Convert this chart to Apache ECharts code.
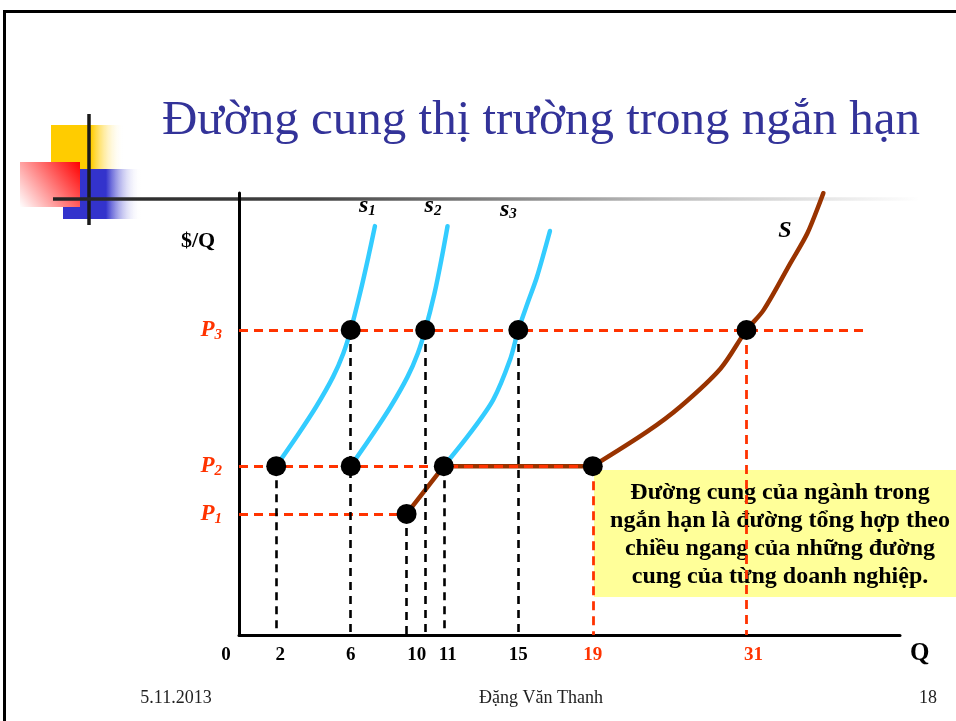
<!DOCTYPE html>
<html><head><meta charset="utf-8">
<script src="https://cdn.jsdelivr.net/npm/echarts@6/dist/echarts.min.js"></script>
<style>html,body{margin:0;padding:0;background:#fff}#c{width:956px;height:721px}</style>
</head><body><div id="c"></div>
<script>
// ---------- data ----------
const qTicks = [0, 2, 6, 10, 11, 15, 19, 31];
const industryQ = [19, 31];
const priceNames = ['1', '2', '3'];
const priceLevels = [2.74, 3.82, 6.9];            // P1, P2, P3 (schematic)
const P1 = priceLevels[0], P2 = priceLevels[1], P3 = priceLevels[2];
const s1 = [[2, P2], [3.1, 4.49], [4.15, 5.17], [5.05, 5.84], [5.6, 6.37], [6, P3], [6.5, 7.73], [6.95, 8.56], [7.3, 9.25]];
const s2 = [[6, P2], [7.1, 4.49], [8.15, 5.17], [9.05, 5.84], [9.6, 6.37], [10, P3], [10.5, 7.73], [10.9, 8.56], [11.2, 9.25]];
const s3 = [[11, P2], [12.4, 4.56], [13.65, 5.32], [14.55, 6.22], [15, P3], [15.5, 7.51], [16, 8.1], [16.7, 9.14]];
const sFlat = [[9, P1], [11, P2], [19, P2]];
const sCurve = [[19, P2], [23.24, 4.6], [25.85, 5.17], [28.98, 6.03], [31, P3], [32.33, 7.35], [34.44, 8.42], [35.77, 9.1], [37, 10]];
const points = [[2, P2], [6, P2], [6, P3], [10, P3], [11, P2], [15, P3], [9, P1], [19, P2], [31, P3]];
const redH = [[0, P3, 40.5], [0, P2, 19], [0, P1, 9]];   // [fromQ, P, toQ]
const redV = [[19, P2], [31, P3]];
const blackV = [[2, P2], [6, P3], [10, P3], [11, P2], [15, P3], [9, P1]];

// ---------- schematic axis: the drawing compresses Q beyond 19 ----------
const BREAK_Q = 19, COMPRESS = 0.688;
const W = q => q <= BREAK_Q ? q : BREAK_Q + (q - BREAK_Q) * COMPRESS;
const UW = u => u <= BREAK_Q ? u : BREAK_Q + (u - BREAK_Q) / COMPRESS;
const warp = arr => arr.map(([q, p]) => [W(q), p]);

const SERIF = '"Liberation Serif","DejaVu Serif",serif';
const RED = '#FF3300';
const chart = echarts.init(document.getElementById('c'), null, {renderer: 'canvas'});

const tickRich = {
  n: {fontFamily: SERIF, fontWeight: 'bold', fontSize: 19, color: '#000'},
  r: {fontFamily: SERIF, fontWeight: 'bold', fontSize: 19, color: RED},
  z: {fontFamily: SERIF, fontWeight: 'bold', fontSize: 19, color: '#000', padding: [0, 26, 0, 0]},
  t: {fontFamily: SERIF, fontWeight: 'bold', fontSize: 19, color: '#000', padding: [0, 17, 0, 0]},
  e: {fontFamily: SERIF, fontWeight: 'bold', fontSize: 19, color: '#000', padding: [0, 0, 0, 8]},
  rr: {fontFamily: SERIF, fontWeight: 'bold', fontSize: 19, color: RED, padding: [0, 0, 0, 14]}
};

function curveLabel(sub, dx, dy) {
  return {
    show: true, formatter: '{a|s}{b|' + sub + '}', offset: [dx, dy], distance: 0,
    rich: {
      a: {fontFamily: SERIF, fontStyle: 'italic', fontWeight: 'bold', fontSize: 24, color: '#000', lineHeight: 22},
      b: {fontFamily: SERIF, fontStyle: 'italic', fontWeight: 'bold', fontSize: 15, color: '#000', lineHeight: 14, padding: [9, 0, 0, 0]}
    }
  };
}
const blue = {color: '#33CCFF', width: 4.5, cap: 'round'};
const brown = {color: '#993300', width: 4.5, cap: 'round', join: 'round'};

const option = {
  animation: false,
  grid: {left: 239, right: 56, top: 193, bottom: 86, containLabel: false},
  xAxis: {
    type: 'value', min: 0, max: 35.5,
    axisLine: {show: true, onZero: false, lineStyle: {color: '#000', width: 3}},
    axisTick: {show: false}, splitLine: {show: false},
    axisLabel: {
      customValues: qTicks.map(W), margin: 11,
      formatter: v => {
        const q = Math.round(UW(v));
        if (q === 0) return '{z|0}';
        if (q === 10) return '{t|10}';
        if (q === 2 || q === 11) return '{e|' + q + '}';
        if (q === 31) return '{rr|31}';
        return industryQ.includes(q) ? '{r|' + q + '}' : '{n|' + q + '}';
      },
      rich: tickRich
    },
    name: 'Q', nameLocation: 'end', nameGap: 10,
    nameTextStyle: {fontFamily: SERIF, fontWeight: 'bold', fontSize: 25, color: '#000', verticalAlign: 'top', padding: [6, 0, 0, 0]}
  },
  yAxis: {
    type: 'value', min: 0, max: 10,
    axisLine: {show: true, onZero: false, lineStyle: {color: '#000', width: 3}},
    axisTick: {show: false}, splitLine: {show: false},
    axisLabel: {
      customValues: priceLevels, margin: 17,
      formatter: v => '{p|P}{s|' + priceNames[priceLevels.indexOf(v)] + '}',
      rich: {
        p: {fontFamily: SERIF, fontStyle: 'italic', fontWeight: 'bold', fontSize: 23, color: RED, lineHeight: 22},
        s: {fontFamily: SERIF, fontStyle: 'italic', fontWeight: 'bold', fontSize: 15, color: RED, lineHeight: 14, padding: [10, 0, 0, 0]}
      }
    }
  },
  graphic: [
    {type: 'rect', shape: {x: 4.5, y: 11.5, width: 1000, height: 800}, style: {fill: 'none', stroke: '#000', lineWidth: 3}, silent: true},
    {type: 'rect', shape: {x: 51, y: 125, width: 73, height: 45}, style: {fill: new echarts.graphic.LinearGradient(0, 0, 1, 0, [{offset: 0, color: '#FFCC00'}, {offset: 0.55, color: '#FFCC00'}, {offset: 1, color: 'rgba(255,255,255,0)'}])}, silent: true},
    {type: 'rect', shape: {x: 63, y: 169, width: 78, height: 50}, style: {fill: new echarts.graphic.LinearGradient(0, 0, 1, 0, [{offset: 0, color: '#3333CC'}, {offset: 0.55, color: '#3333CC'}, {offset: 1, color: 'rgba(255,255,255,0)'}])}, silent: true},
    {type: 'rect', shape: {x: 20, y: 162, width: 60, height: 45}, style: {fill: new echarts.graphic.LinearGradient(1, 0, 0, 1, [{offset: 0, color: '#FF0000'}, {offset: 1, color: '#FFFFFF'}])}, silent: true},
    {type: 'line', shape: {x1: 89, y1: 114, x2: 89, y2: 225}, style: {stroke: '#1a1a1a', lineWidth: 3.5}, silent: true},
    {type: 'line', shape: {x1: 53, y1: 199, x2: 918, y2: 199}, style: {stroke: new echarts.graphic.LinearGradient(0, 0, 1, 0, [{offset: 0, color: '#222'}, {offset: 0.3, color: '#444'}, {offset: 0.7, color: '#bbb'}, {offset: 1, color: '#fff'}]), lineWidth: 3.5}, silent: true},
    {type: 'text', x: 541, y: 121, style: {text: 'Đường cung thị trường trong ngắn hạn', font: '49px ' + SERIF, fill: '#333399', textAlign: 'center', textVerticalAlign: 'middle'}, silent: true},
    {type: 'text', x: 198, y: 241, style: {text: '$/Q', font: 'bold 22px ' + SERIF, fill: '#000', textAlign: 'center', textVerticalAlign: 'middle'}, silent: true},
    {type: 'rect', shape: {x: 594, y: 470, width: 362, height: 127}, style: {fill: '#FFFF99'}, silent: true},
    {type: 'text', x: 780, y: 479, style: {text: 'Đường cung của ngành trong\nngắn hạn là đường tổng hợp theo\nchiều ngang của những đường\ncung của từng doanh nghiệp.', font: 'bold 24px ' + SERIF, fill: '#000', textAlign: 'center', textVerticalAlign: 'top', lineHeight: 28}, silent: true},
    {type: 'text', x: 176, y: 698, style: {text: '5.11.2013', font: '18px ' + SERIF, fill: '#222', textAlign: 'center', textVerticalAlign: 'middle'}, silent: true},
    {type: 'text', x: 541, y: 698, style: {text: 'Đặng Văn Thanh', font: '18px ' + SERIF, fill: '#222', textAlign: 'center', textVerticalAlign: 'middle'}, silent: true},
    {type: 'text', x: 928, y: 698, style: {text: '18', font: '18px ' + SERIF, fill: '#222', textAlign: 'center', textVerticalAlign: 'middle'}, silent: true}
  ],
  series: [
    {type: 'line', data: [], z: 1, silent: true,
      markLine: {silent: true, symbol: ['none', 'none'], label: {show: false}, animation: false,
        lineStyle: {color: RED, width: 2.8, type: [9, 6]},
        data: redH.map(([a, p, b]) => [{coord: [W(a), p]}, {coord: [W(b), p]}])
          .concat(redV.map(([q, p]) => [{coord: [W(q), p]}, {coord: [W(q), 0]}]))}},
    {type: 'line', data: [], z: 1, silent: true,
      markLine: {silent: true, symbol: ['none', 'none'], label: {show: false}, animation: false,
        lineStyle: {color: '#000', width: 2.6, type: [8, 6]},
        data: blackV.map(([q, p]) => [{coord: [W(q), p]}, {coord: [W(q), 0]}])}},
    {type: 'line', name: 's1', data: warp(s1), smooth: 0.3, showSymbol: false, lineStyle: blue, z: 3, silent: true, endLabel: curveLabel('1', -16, -20)},
    {type: 'line', name: 's2', data: warp(s2), smooth: 0.3, showSymbol: false, lineStyle: blue, z: 3, silent: true, endLabel: curveLabel('2', -23, -20)},
    {type: 'line', name: 's3', data: warp(s3), smooth: 0.3, showSymbol: false, lineStyle: blue, z: 3, silent: true, endLabel: curveLabel('3', -50, -21)},
    {type: 'line', name: 'S flat', data: warp(sFlat), smooth: false, showSymbol: false, lineStyle: brown, z: 4, silent: true},
    {type: 'line', name: 'S', data: warp(sCurve), smooth: 0.3, showSymbol: false, lineStyle: brown, z: 4, silent: true,
      endLabel: {show: true, formatter: 'S', offset: [-53, 38], fontFamily: SERIF, fontStyle: 'italic', fontWeight: 'bold', fontSize: 24, color: '#000'}},
    {type: 'scatter', data: warp(points), symbolSize: 20, itemStyle: {color: '#000', opacity: 1}, z: 10, silent: true}
  ]
};
chart.setOption(option);
</script>
</body></html>
